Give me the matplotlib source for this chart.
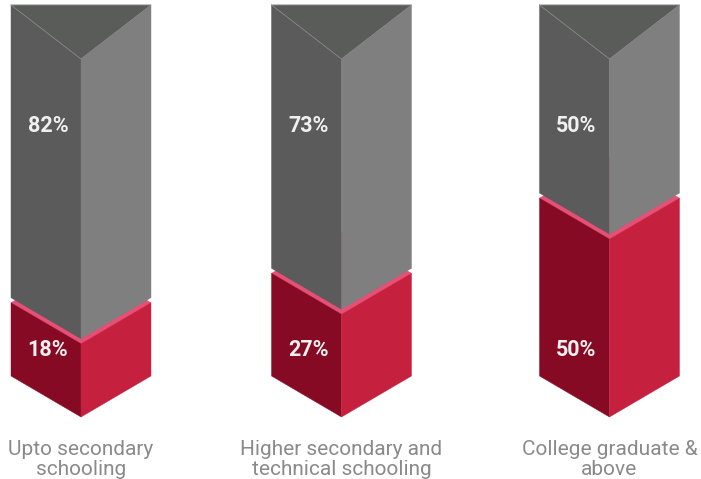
import matplotlib
matplotlib.use("Agg")
import matplotlib.pyplot as plt
from matplotlib.patches import Polygon

categories = ["Upto secondary\nschooling", "Higher secondary and\ntechnical schooling", "College graduate &\nabove"]
red_share = [18, 27, 50]
grey_share = [82, 73, 50]
column_centers = [81, 341.5, 609.5]

W, H = 701, 479
Y0, K = 361.6, 3.27          # pixel row of value 0, pixels per percentage point


def v(px):
    """Distance in pixels from the top of the figure -> value on the y axis."""
    return (Y0 - px) / K


HALF = 70
TOP, TOP_APEX = v(5), v(59)
BASE, BASE_APEX = v(376), v(417)
RISE = (417 - 376) / K
GAP = 5 / K

GREY_TOP, GREY_L, GREY_R = "#5a5c5a", "#5b5b5b", "#7f7f7f"
RED_L, RED_R, PINK = "#860a23", "#c6203f", "#e74f76"
SEAM = "#8e8e8e"

fig = plt.figure(figsize=(W / 100, H / 100), dpi=100)
ax = fig.add_axes([0, 0, 1, 1])
ax.set_xlim(0, W)
ax.set_ylim(v(H), v(0))
ax.axis("off")


def poly(pts, color, z):
    ax.add_patch(Polygon(pts, closed=True, fc=color, ec=color, lw=0.3, zorder=z))


for c, name, red, grey in zip(column_centers, categories, red_share, grey_share):
    l, r = c - HALF, c + HALF
    # red box: top face first, so the grey column overlaps it
    poly([(l, red), (c, red + RISE), (r, red), (c, red - RISE)], PINK, 1)
    poly([(l, red), (c, red - RISE), (c, BASE_APEX), (l, BASE)], RED_L, 2)
    poly([(r, red), (c, red - RISE), (c, BASE_APEX), (r, BASE)], RED_R, 2)
    # grey column
    g = red + GAP
    poly([(l, TOP), (c, TOP_APEX), (c, g - RISE), (l, g)], GREY_L, 3)
    poly([(r, TOP), (c, TOP_APEX), (c, g - RISE), (r, g)], GREY_R, 3)
    poly([(l, TOP), (r, TOP), (c, TOP_APEX)], GREY_TOP, 4)
    ax.plot([l, c, r, l], [TOP, TOP_APEX, TOP, TOP], color=SEAM, lw=0.5, zorder=5)
    # value labels
    lx = (l + c) / 2 + 2
    ax.text(lx, v(126), f"{grey}%", color="#f0f0f0", fontsize=15.5, fontweight="bold",
            family="Roboto", ha="center", va="center", zorder=6)
    ax.text(lx, v(350), f"{red}%", color="#f0f0f0", fontsize=15.5, fontweight="bold",
            family="Roboto", ha="center", va="center", zorder=6)
    # category label
    ax.text(c, v(459.5), name, color="#8a8a8a", fontsize=15, family="Roboto",
            ha="center", va="center", linespacing=1.05, zorder=6)

fig.savefig("out.png", dpi=100, facecolor="white")
